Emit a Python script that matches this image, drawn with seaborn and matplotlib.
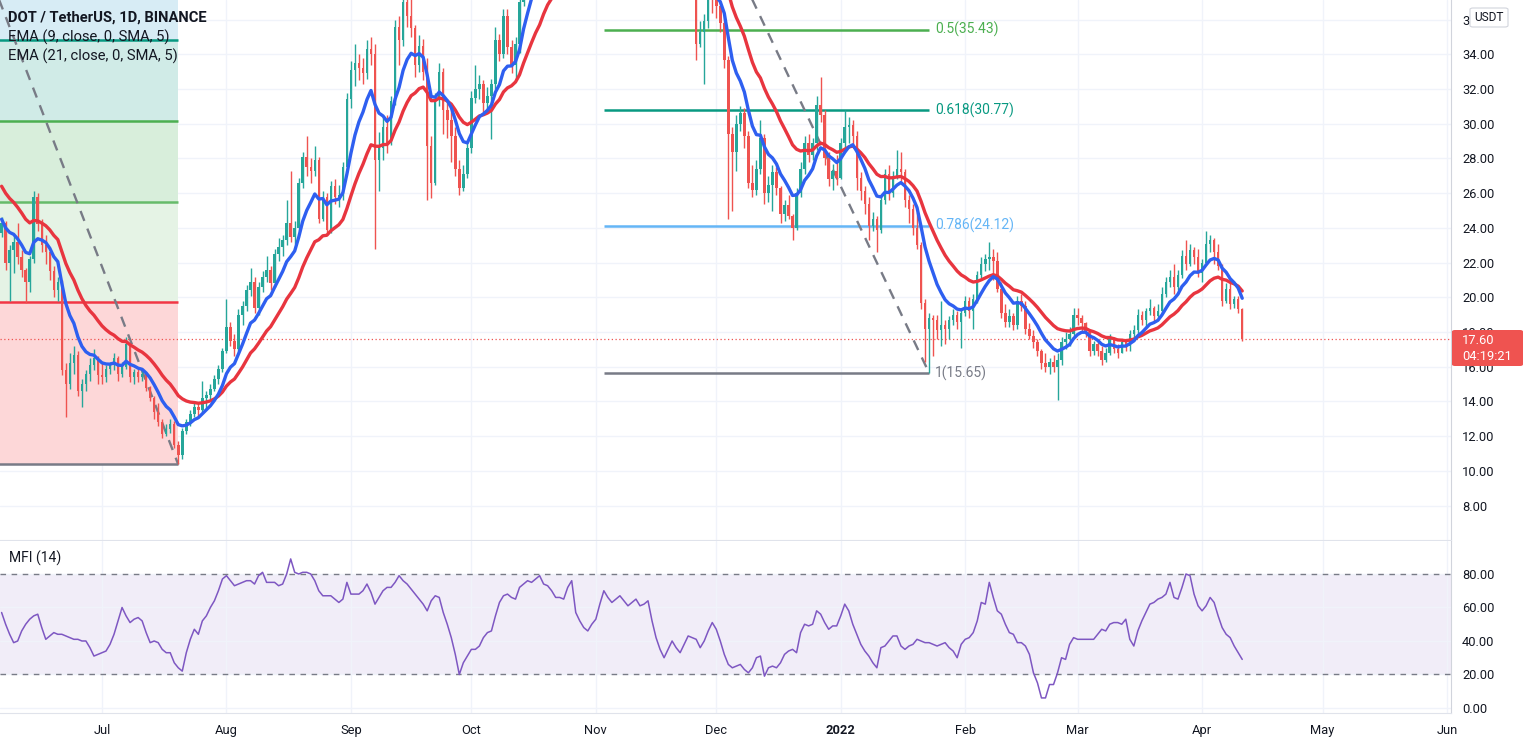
import numpy as np
import pandas as pd
import matplotlib
matplotlib.use("Agg")
import matplotlib.pyplot as plt
import seaborn as sns
from matplotlib.patches import Rectangle, FancyBboxPatch

# ---------------- data ----------------
start_date = "2021-06-06"
first_open = 23.7

# daily (close, high, low); open = previous close
jun_2021 = [(24.3,24.6,23.5),(22.0,24.4,21.6),(22.7,23.0,19.8),(23.2,23.6,21.4),(22.3,24.3,21.9),
            (21.6,22.7,21.2),(20.9,21.7,19.7),(22.2,22.4,20.3),(25.8,26.1,22.0),(24.2,26.0,23.8),
            (23.0,24.5,22.6),(22.6,23.6,21.9),(21.5,22.8,21.0),(20.4,21.8,20.0),(20.9,21.2,19.8),
            (15.8,21.0,15.5),(15.0,16.2,13.1),(16.2,16.8,14.7),(16.7,17.2,15.6),(14.6,16.9,14.3),
            (15.0,15.3,13.7),(15.6,15.8,14.6),(16.1,16.5,15.2),(16.5,17.0,15.8),(15.5,16.6,15.0)]
jul_2021 = [(15.4,16.3,15.0),(15.9,16.1,15.1),(16.1,16.3,15.6),(16.5,16.8,15.8),(15.6,16.6,15.2),
            (16.0,16.3,15.4),(17.3,17.7,15.9),(15.4,17.3,15.1),(15.7,15.9,15.0),(15.4,15.9,15.1),
            (15.6,15.8,15.2),(14.8,15.7,14.6),(14.2,14.9,14.0),(13.4,14.3,13.0),(12.8,13.9,12.6),
            (12.1,13.0,11.9),(12.4,12.7,12.0),(12.7,13.0,12.2),(11.5,12.9,11.3),(10.9,11.7,10.37),
            (12.3,12.5,10.7),(12.8,13.0,12.1),(13.3,13.5,12.6),(13.7,14.0,13.1),(13.5,13.9,13.1),
            (14.2,15.2,13.4),(14.4,14.6,13.6),(14.7,15.0,14.1),(15.3,15.5,14.6),(15.9,16.1,15.0),
            (16.9,17.1,15.7)]
aug_2021 = [(18.3,19.9,16.8),(17.5,18.6,17.2),(17.0,17.9,16.6),(19.0,19.3,16.9),(19.5,19.8,18.4),
            (20.4,20.7,19.2),(20.9,21.7,20.1),(19.4,21.2,19.1),(20.6,20.9,19.0),(21.2,21.5,20.3),
            (21.6,22.4,20.9),(20.8,21.8,20.4),(22.5,22.8,20.6),(22.9,23.4,22.1),(23.3,23.6,22.4),
            (24.3,25.6,23.0),(23.5,27.3,23.2),(24.0,24.4,23.1),(26.6,26.9,23.8),(28.1,28.4,26.3),
            (27.5,29.3,27.0),(27.3,28.0,26.6),(27.9,28.7,27.0),(24.5,28.1,24.3),(25.8,26.1,24.4),
            (23.9,26.0,23.6),(26.4,26.7,23.7),(25.8,26.8,25.4),(25.9,26.5,25.2),(27.5,27.8,25.6),
            (31.4,31.8,27.2)]
sep_2021 = [(33.1,33.6,30.9),(33.5,34.6,32.2),(33.2,34.0,32.5),(32.9,33.8,32.3),(34.3,34.8,32.6),
            (34.0,35.0,33.4),(27.9,34.6,22.8),(28.6,29.5,26.1),(29.8,30.4,27.9),(28.9,30.5,28.3),
            (31.3,31.6,28.8),(35.6,36.0,31.1),(34.8,36.2,33.4),(37.0,37.6,34.5),(36.2,38.6,35.6),
            (35.5,37.2,35.0),(33.4,35.7,32.7),(34.5,35.1,33.0),(33.0,34.9,32.5),(28.7,33.8,25.6),
            (26.6,29.3,25.7),(31.4,31.8,26.5),(33.0,33.5,31.0),(30.8,33.2,29.4),(30.2,31.3,29.2),
            (29.3,30.8,27.8),(27.4,29.8,27.0),(26.3,27.9,25.9),(27.1,27.6,26.1),(28.6,29.0,26.9)]
oct_2021 = [(31.5,31.9,28.3),(32.0,33.4,31.2),(32.3,32.8,31.4),(31.2,32.5,30.6),(31.6,32.1,30.8),
            (32.3,32.6,29.1),(34.8,35.6,32.0),(34.0,35.2,33.6),(36.2,36.6,33.8),(34.4,36.6,34.0),
            (33.4,34.8,32.9),(34.6,35.0,32.6),(37.0,37.5,34.1),(40.2,40.8,36.8),(40.0,41.5,38.4),
            (40.6,41.8,39.5),(40.8,41.4,38.9),(40.3,42.0,39.6),(42.6,43.2,39.8),(42.1,43.4,40.8),
            (40.9,44.0,39.8),(42.6,43.3,40.1),(43.5,44.2,42.0),(42.4,43.8,41.2),(43.0,44.0,41.8),
            (42.6,44.1,41.9),(38.4,43.0,37.9),(41.0,41.6,37.4),(43.6,44.2,40.6),(42.5,44.3,41.7),
            (42.3,43.4,40.2)]
nov_2021 = [(44.0,45.1,41.6),(48.0,48.5,43.8),(52.1,53.0,47.4),(52.0,55.2,50.6),(51.0,53.6,50.0),
            (49.6,51.5,47.8),(51.0,51.4,49.3),(51.7,53.2,50.2),(50.5,52.5,49.8),(45.5,51.0,44.8),
            (44.9,46.5,44.0),(43.2,45.4,42.0),(43.3,44.3,42.4),(43.0,43.9,42.0),(41.3,43.7,40.8),
            (39.2,41.6,38.4),(39.6,40.4,38.6),(38.4,40.0,37.8),(40.6,41.0,38.0),(40.3,41.4,39.6),
            (39.4,40.9,39.0),(38.2,39.9,37.6),(39.2,39.7,37.4),(38.0,39.5,37.3),(38.6,39.6,37.6),
            (34.6,38.9,33.7),(35.3,35.9,34.4),(35.9,36.3,32.3),(37.6,38.3,35.5),(37.3,38.7,36.4)]
dec_2021 = [(36.8,38.2,36.1),(35.8,37.0,35.3),(33.7,36.3,33.2),(29.4,33.9,24.5),(28.4,29.8,25.0),
            (30.0,30.5,27.3),(30.6,31.0,29.6),(29.3,30.9,28.6),(26.6,29.6,26.3),(26.2,27.6,25.8),
            (27.4,27.9,25.9),(29.2,30.2,27.1),(26.0,29.4,25.4),(26.5,27.0,25.5),(27.2,27.6,25.0),
            (26.3,27.5,25.9),(24.8,26.4,24.3),(25.3,25.6,24.4),(24.7,25.9,24.5),(24.0,24.8,23.3),
            (26.0,26.3,23.9),(27.4,27.8,25.8),(28.9,29.3,27.1),(28.2,29.4,27.8),(28.9,29.2,27.9),
            (31.1,31.6,28.5),(30.5,32.7,30.1),(28.0,30.8,27.6),(26.8,28.4,26.4),(27.3,27.7,26.2),
            (26.9,28.2,26.5)]
jan_2022 = [(28.9,29.2,26.8),(29.8,30.8,28.6),(29.9,30.4,28.9),(29.3,30.2,28.7),(26.9,29.6,26.2),
            (26.1,27.2,25.6),(25.4,26.4,24.8),(24.1,25.8,23.3),(24.5,24.9,23.8),(23.9,24.7,22.6),
            (25.6,25.9,23.7),(27.1,27.4,25.4),(26.0,27.6,25.6),(27.0,27.3,25.8),(27.4,28.5,26.8),
            (27.2,28.4,26.7),(25.6,27.4,25.2),(25.1,25.9,24.3),(24.0,25.4,23.6),(23.0,24.9,22.8),
            (19.7,23.2,19.3),(18.2,19.9,16.3),(18.8,19.1,15.65),(18.7,19.0,16.6),(18.1,19.0,17.6),
            (18.4,19.8,17.2),(18.2,18.7,17.3),(18.7,18.9,17.6),(19.0,19.3,18.4),(18.6,19.2,18.2),
            (19.1,19.3,17.1)]
feb_2022 = [(19.8,20.1,18.9),(19.2,20.0,18.8),(19.9,20.2,18.2),(21.3,21.5,19.7),(21.9,22.3,21.1),
            (22.2,22.5,21.5),(22.3,23.2,21.6),(22.1,22.8,21.0),(20.5,22.6,20.3),(19.1,20.9,18.8),
            (18.6,19.6,18.3),(18.9,19.3,18.3),(18.4,19.1,18.1),(19.8,20.1,18.2),(19.5,20.2,19.2),
            (18.2,19.8,17.9),(17.8,18.5,17.6),(17.4,18.1,17.1),(16.9,17.6,16.6),(16.2,17.0,15.9),
            (16.0,16.8,15.7),(16.3,16.5,15.6),(16.0,16.7,15.7),(16.4,16.8,14.1),(17.4,17.7,16.1),
            (17.6,18.0,17.0),(17.9,18.3,17.2),(19.0,19.4,17.8)]
mar_2022 = [(18.8,19.4,18.4),(18.5,19.0,18.0),(18.0,18.6,17.7),(16.9,18.1,16.6),(17.3,17.5,16.7),
            (16.9,17.4,16.6),(16.4,17.2,16.1),(16.8,17.1,16.3),(17.6,17.9,16.7),(17.0,17.7,16.8),
            (16.8,17.3,16.5),(17.4,17.6,16.8),(17.2,17.5,16.9),(17.9,18.1,16.9),(18.1,18.4,17.5),
            (19.0,19.3,17.9),(18.7,19.2,18.4),(19.2,19.4,18.3),(19.4,19.9,19.0),(18.9,19.5,18.6),
            (19.2,19.6,18.7),(20.2,20.6,19.1),(20.9,21.2,20.0),(21.2,21.6,20.6),(20.6,21.9,20.2),
            (21.3,21.6,20.4),(22.4,22.7,21.1),(21.9,23.3,21.6),(22.7,23.1,21.8),(22.3,22.9,21.9),
            (21.4,22.8,21.2)]
apr_2022 = [(22.0,22.2,20.9),(23.1,23.8,21.9),(23.3,23.6,22.6),(22.6,23.4,21.9),(21.8,23.1,21.6),
            (19.8,21.9,19.5),(20.5,20.8,19.7),(19.6,20.8,19.3),(19.9,20.1,19.4),(19.3,20.1,19.1),
            (17.60,19.4,17.5)]

# Money Flow Index (14), daily
mfi_jun = [57,50,44,39,40,46,50,53,55,56,48,41,43,45,44,44,43,42,41,41,40,40,36,31,32]
mfi_jul = [33,34,38,44,52,60,55,51,53,54,52,45,39,40,39,35,33,33,27,24,22,33,41,47,44,52,55,60,64,70,77]
mfi_aug = [79,76,73,74,75,76,76,74,79,81,75,75,75,73,74,80,89,81,80,81,81,80,76,70,67,67,67,65,63,65,75]
mfi_sep = [68,68,68,70,74,69,62,66,70,72,72,75,79,76,74,71,68,65,62,58,64,67,66,57,50,42,32,20,27,31]
mfi_oct = [35,35,37,42,45,46,55,63,67,68,66,65,72,74,76,75,77,79,74,73,70,66,66,65,72,76,57,52,48,46,50]
mfi_nov = [53,62,70,66,63,65,67,64,61,63,65,61,62,64,52,42,35,30,35,40,36,33,38,43,42,41,36,40,46,51]
mfi_dec = [47,40,32,26,24,25,26,23,21,24,30,31,19,24,25,24,27,32,34,35,33,45,50,49,50,58,56,51,47,49,49]
mfi_jan = [55,62,58,50,44,38,34,31,27,24,36,37,40,43,43,37,35,37,38,41,40,39,39,38,37,38,39,36,34,30,38]
mfi_feb = [41,42,45,52,63,62,75,66,58,56,50,45,44,39,39,37,32,21,15,6,6,14,14,21,30,29,38,42]
mfi_mar = [41,41,41,41,41,44,47,46,50,51,51,50,53,41,37,46,52,57,62,63,65,66,68,75,66,65,72,80,79,68,61]
mfi_apr = [58,61,66,63,55,48,44,42,37,33,29]

# EMA values on the first visible day
ema9_seed = 24.5
ema21_seed = 26.4

# Fibonacci drawings
fib_left_start, fib_left_end = "2021-05-15", "2021-07-20"
fib_left_high, fib_left_low = 49.97, 10.37
fib_left_levels = [0, 0.236, 0.382, 0.5, 0.618, 0.786]
fib_right_start, fib_right_end = "2021-11-03", "2022-01-23"
fib_right_top, fib_right_bottom = 55.21, 15.65
fib_right_levels = ["0.5", "0.618", "0.786", "1"]
fib_right_prices = [35.43, 30.77, 24.12, 15.65]

month_labels = ["Jul", "Aug", "Sep", "Oct", "Nov", "Dec", "2022", "Feb", "Mar", "Apr", "May", "Jun"]
price_ticks = [8, 10, 12, 14, 16, 18, 20, 22, 24, 26, 28, 30, 32, 34, 36]
mfi_ticks = [0, 20, 40, 60, 80]
last_price = 17.60
countdown = "04:19:21"

# ---------------- build series ----------------
months = [jun_2021, jul_2021, aug_2021, sep_2021, oct_2021, nov_2021,
          dec_2021, jan_2022, feb_2022, mar_2022, apr_2022]
close = np.array([c for m in months for (c, h, l) in m])
high = np.array([h for m in months for (c, h, l) in m])
low = np.array([l for m in months for (c, h, l) in m])
opens = np.concatenate([[first_open], close[:-1]])
high = np.maximum(high, np.maximum(opens, close))
low = np.minimum(low, np.minimum(opens, close))
mfi = np.array(mfi_jun + mfi_jul + mfi_aug + mfi_sep + mfi_oct + mfi_nov +
               mfi_dec + mfi_jan + mfi_feb + mfi_mar + mfi_apr, dtype=float)

ref = pd.Timestamp("2021-07-01")
dates = pd.date_range(start_date, periods=len(close), freq="D")
days = np.asarray((dates - ref).days, dtype=float)


def ema(values, span, seed):
    a = 2.0 / (span + 1.0)
    out = np.empty_like(values, dtype=float)
    prev = seed
    for i, v in enumerate(values):
        if i > 0:
            prev = a * v + (1 - a) * prev
        out[i] = prev
    return out


ema9 = ema(close, 9, ema9_seed)
ema21 = ema(close, 21, ema21_seed)


def dnum(s):
    return float((pd.Timestamp(s) - ref).days)


# ---------------- figure ----------------
sns.set_style("white")
plt.rcParams["font.family"] = ["Roboto", "DejaVu Sans"]

W, H = 1527, 745
fig = plt.figure(figsize=(W / 100, H / 100), dpi=100)
fig.patch.set_facecolor("white")


def rect(x0, y0, x1, y1):
    return [x0 / W, 1 - y1 / H, (x1 - x0) / W, (y1 - y0) / H]


def fx(x):
    return x / W


def fy(y):
    return 1 - y / H


ax1 = fig.add_axes(rect(0, 0, 1451, 540))
ax2 = fig.add_axes(rect(0, 541, 1451, 713))

XMIN, XMAX = -25.4, 336.0
ax1.set_xlim(XMIN, XMAX)
ax2.set_xlim(XMIN, XMAX)
ax1.set_ylim(6.02, 37.13)
ax2.set_ylim(-3.0, 99.7)

TXT = "#131722"
GRID = "#f0f3fa"
month_pos = [dnum(d) for d in pd.date_range("2021-07-01", "2022-06-01", freq="MS")]

for ax in (ax1, ax2):
    ax.set_facecolor("white")
    ax.set_xticks(month_pos)
    ax.grid(True, color=GRID, lw=1, zorder=0)
    ax.set_axisbelow(True)
    for s in ("left", "top"):
        ax.spines[s].set_visible(False)
    ax.spines["right"].set_color("#d1d4dc")
    ax.spines["bottom"].set_color("#e0e3eb")
    ax.yaxis.tick_right()
    ax.tick_params(axis="y", length=0, pad=8, labelsize=9.3, labelcolor=TXT)

ax1.set_yticks(price_ticks)
ax1.set_yticklabels([f"{v:.2f}" for v in price_ticks])
ax1.tick_params(axis="x", length=0, labelbottom=False)
ax2.set_yticks(mfi_ticks)
ax2.set_yticklabels([f"{v:.2f}" for v in mfi_ticks])
ax2.set_xticklabels(month_labels)
ax2.tick_params(axis="x", length=0, pad=8, labelsize=9.3, labelcolor=TXT)
for lab in ax2.get_xticklabels():
    if lab.get_text() == "2022":
        lab.set_fontweight("bold")

# ---- left fib retracement (filled zones) ----
lf0, lf1 = dnum(fib_left_start), dnum(fib_left_end)
lrange = fib_left_high - fib_left_low
left_line_cols = ["#787b86", "#f23645", "#66bb6a", "#4caf50", "#089981", "#64b5f6"]
left_fill_cols = ["#fdd7d8", "#e5f3e5", "#d8eedb", "#d0ebe7", "#d7ecf5"]
lp = [fib_left_low + lv * lrange for lv in fib_left_levels]
for i in range(len(lp) - 1):
    ax1.add_patch(Rectangle((lf0, lp[i]), lf1 - lf0, lp[i + 1] - lp[i],
                            facecolor=left_fill_cols[i], edgecolor="none", zorder=0.6))
for p, c in zip(lp, left_line_cols):
    ax1.plot([lf0, lf1], [p, p], color=c, lw=1.8, zorder=1.5, solid_capstyle="butt")
ax1.plot([lf0, lf1], [fib_left_high, fib_left_low], color="#787b86", lw=1.7,
         dashes=(4.5, 3.5), zorder=1.6)

# ---- right fib retracement ----
rf0, rf1 = dnum(fib_right_start), dnum(fib_right_end)
right_cols = ["#4caf50", "#089981", "#64b5f6", "#787b86"]
for lv, p, c in zip(fib_right_levels, fib_right_prices, right_cols):
    ax1.plot([rf0, rf1], [p, p], color=c, lw=1.8, zorder=1.5, solid_capstyle="butt")
    ax1.annotate(f"{lv}({p:.2f})", xy=(rf1, p), xytext=(4.5, 0), textcoords="offset points",
                 va="center", ha="left", color=c, fontsize=10.0, zorder=5)
ax1.plot([rf0, rf1], [fib_right_top, fib_right_bottom], color="#787b86", lw=1.7,
         dashes=(4.5, 3.5), zorder=1.6)

# ---- candles ----
UP, DN = "#26a69a", "#ef5350"
cols = np.where(close >= opens, UP, DN)
body_bot = np.minimum(opens, close)
body_h = np.maximum(np.abs(close - opens), 0.06)
ax1.vlines(days, low, high, colors=cols, lw=1.0, zorder=3)
ax1.bar(days, body_h, bottom=body_bot, width=0.62, color=cols, linewidth=0, zorder=3.1)

# ---- EMAs ----
sns.lineplot(x=days, y=ema21, ax=ax1, color="#e8353f", lw=2.4, zorder=4, legend=False)
sns.lineplot(x=days, y=ema9, ax=ax1, color="#2e5ff0", lw=2.4, zorder=4.1, legend=False)

# last price line
ax1.axhline(last_price, color="#ef5350", lw=0.9, ls=(0, (1, 2)), zorder=2)

# ---- MFI pane ----
ax2.axhspan(20, 80, color="#7e57c2", alpha=0.1, lw=0, zorder=0.5)
for lvl in (20, 80):
    ax2.axhline(lvl, color="#787b86", lw=1, dashes=(4, 4), zorder=1)
sns.lineplot(x=days, y=mfi, ax=ax2, color="#7e57c2", lw=1.1, zorder=3, legend=False)

# ---- texts ----
fig.text(fx(8), fy(18), "DOT / TetherUS, 1D, BINANCE", fontsize=10.6, fontweight="bold",
         color=TXT, va="center", ha="left")
fig.text(fx(8), fy(37), "EMA (9, close, 0, SMA, 5)", fontsize=10.6, color=TXT, va="center", ha="left")
fig.text(fx(8), fy(56), "EMA (21, close, 0, SMA, 5)", fontsize=10.6, color=TXT, va="center", ha="left")
fig.text(fx(9), fy(558), "MFI (14)", fontsize=10.0, color=TXT, va="center", ha="left")

# USDT box
fig.patches.append(FancyBboxPatch((fx(1470), fy(27)), fx(38), 19 / H,
                                  boxstyle="round,pad=0,rounding_size=0.002",
                                  transform=fig.transFigure, facecolor="white",
                                  edgecolor="#d1d4dc", lw=0.8, zorder=10))
fig.text(fx(1489), fy(17.5), "USDT", fontsize=8.6, color=TXT, ha="center", va="center", zorder=11)

# last price label
fig.patches.append(FancyBboxPatch((fx(1452), fy(366)), fx(71), 36 / H,
                                  boxstyle="round,pad=0,rounding_size=0.002",
                                  transform=fig.transFigure, facecolor="#ef5350",
                                  edgecolor="none", zorder=10))
fig.text(fx(1462), fy(340), f"{last_price:.2f}", fontsize=9.3, color="white",
         ha="left", va="center", zorder=11)
fig.text(fx(1462), fy(356), countdown, fontsize=9.3, color="white",
         ha="left", va="center", zorder=11)

fig.savefig("out.png", dpi=100, facecolor="white")
